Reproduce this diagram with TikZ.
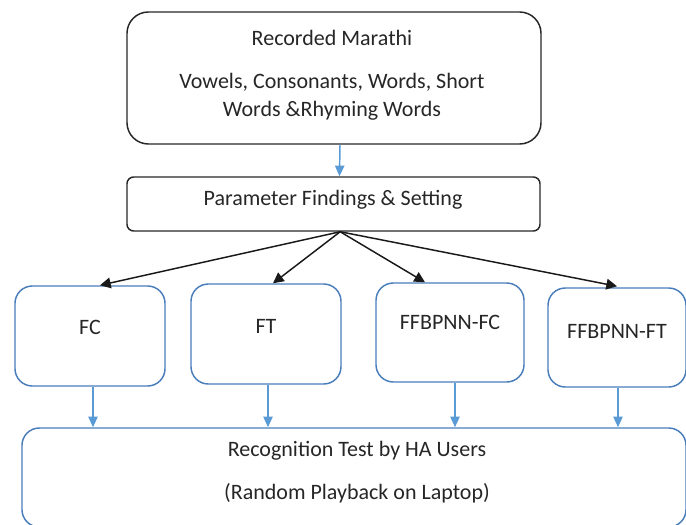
\documentclass[tikz,border=0pt]{standalone}
\usepackage{fontspec}
\setmainfont{Carlito}
\usetikzlibrary{calc, arrows.meta}

\begin{document}
\begin{tikzpicture}[x=0.75pt, y=-0.75pt]
\definecolor{boxblue}{RGB}{74,126,187}
\definecolor{arrowblue}{RGB}{91,155,213}
\tikzset{BlackBox/.style = {draw= black!85, line width= 1.1pt, inner sep= 0pt},
  BlueBox/.style = {draw= boxblue, line width= 1.1pt, inner sep= 0pt},
  BlackArrow/.style = {draw= black!90, line width= 1.1pt, -{Triangle[length= 8pt, width= 8pt]}},
  BlueArrow/.style = {draw= arrowblue, line width= 1.1pt, -{Triangle[length= 8pt, width= 7pt]}},
  LabelStyle/.style = {font= \fontsize{16.5}{20}\selectfont, text= black!85, inner sep= 0pt}
}

    \useasboundingbox (0,0) rectangle (686,525);

    % Draw top boxes
    \node[BlackBox, rounded corners= 16pt, minimum width= 310.5pt, minimum height= 99pt] (recorded) at (334,78) {};
    \node[LabelStyle] (recordedtitle) at (332,38) {Recorded Marathi};
    \node[LabelStyle, align= center] (recordedtext) at (332,97) {Vowels, Consonants, Words, Short\\[1pt] Words \&Rhyming Words};

    \node[BlackBox, rounded corners= 5pt, minimum width= 309.75pt, minimum height= 40.5pt] (param) at (333.5,204) {};
    \node[LabelStyle] (paramtext) at (333,200) {Parameter Findings \& Setting};

    % Draw method boxes
    \node[BlueBox, rounded corners= 13pt, minimum width= 112.5pt, minimum height= 75pt] (fc) at (90,336) {};
    \node[BlueBox, rounded corners= 13pt, minimum width= 112.5pt, minimum height= 75pt] (ft) at (266,334) {};
    \node[BlueBox, rounded corners= 13pt, minimum width= 111pt, minimum height= 74.25pt] (nnfc) at (450,332.5) {};
    \node[BlueBox, rounded corners= 13pt, minimum width= 103.5pt, minimum height= 74.25pt] (nnft) at (617,337.5) {};

    \node[LabelStyle] (fctext) at (90,327) {FC};
    \node[LabelStyle] (fttext) at (266,326) {FT};
    \node[LabelStyle] (nnfctext) at (450,322) {FFBPNN-FC};
    \node[LabelStyle] (nnfttext) at (617,331) {FFBPNN-FT};

    % Draw bottom box
    \node[BlueBox, rounded corners= 13pt, minimum width= 498pt, minimum height= 74.25pt] (recog) at (354,477.5) {};
    \node[LabelStyle] (recogtitle) at (357,451) {Recognition Test by HA Users};
    \node[LabelStyle] (recogtext) at (357,493) {(Random Playback on Laptop)};

    % Draw arrows
    \draw[BlueArrow] ([xshift= 4.5pt]recorded.south) -- ([xshift= 4.5pt]param.north);

    \draw[BlackArrow] ([xshift= 5pt]param.south) -- ($(fc.north)+(10,0)$);
    \draw[BlackArrow] ([xshift= 5pt]param.south) -- ($(ft.north)+(7,0)$);
    \draw[BlackArrow] ([xshift= 5pt]param.south) -- ($(nnfc.north)+(-25,0)$);
    \draw[BlackArrow] ([xshift= 5pt]param.south) -- ($(nnft.north)+(0,-1)$);

    \draw[BlueArrow] ([xshift= 2.25pt]fc.south) -- ([xshift= 2.25pt]fc.south |- recog.north);
    \draw[BlueArrow] ([xshift= 1.5pt]ft.south) -- ([xshift= 1.5pt]ft.south |- recog.north);
    \draw[BlueArrow] ([xshift= 3.75pt]nnfc.south) -- ([xshift= 3.75pt]nnfc.south |- recog.north);
    \draw[BlueArrow] ([xshift= 0.75pt]nnft.south) -- ([xshift= 0.75pt]nnft.south |- recog.north);
\end{tikzpicture}
\end{document}
